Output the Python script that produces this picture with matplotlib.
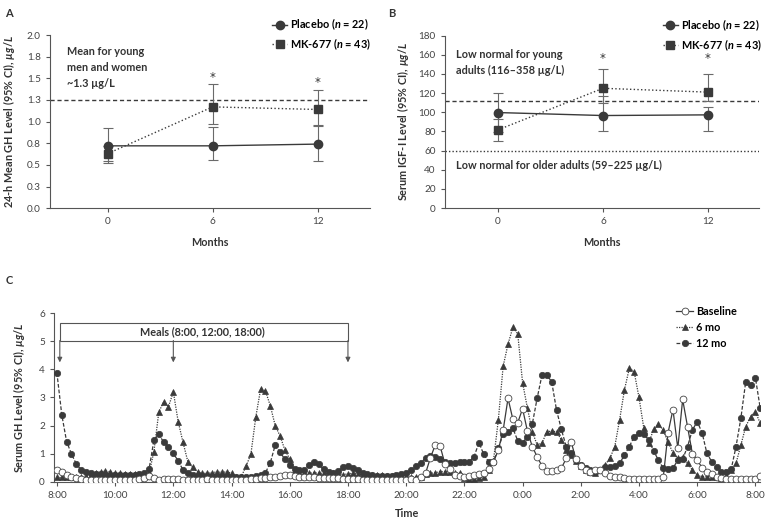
import numpy as np
import matplotlib.pyplot as plt
from matplotlib.patches import Rectangle

plt.rcParams['font.family'] = ['Lato', 'DejaVu Sans']
plt.rcParams['mathtext.fontset'] = 'custom'
plt.rcParams['mathtext.rm'] = 'Lato:bold'
plt.rcParams['mathtext.it'] = 'Lato:bold:italic'
plt.rcParams['mathtext.bf'] = 'Lato:bold'

DARK = '#3a3a3a'
GREY = '#555555'
TXT = '#333333'

# panel A / B data
months = [0, 6, 12]
placebo_gh = [0.72, 0.72, 0.74]
placebo_gh_lo = [0.55, 0.56, 0.55]
placebo_gh_hi = [0.93, 0.94, 0.95]
mk_gh = [0.63, 1.17, 1.14]
mk_gh_lo = [0.52, 0.97, 0.96]
mk_gh_hi = [0.72, 1.43, 1.37]
gh_young_mean = 1.25

placebo_igf = [99.7, 96.6, 97.3]
placebo_igf_lo = [79, 80, 80]
placebo_igf_hi = [120.6, 117, 105]
mk_igf = [81.7, 125, 121]
mk_igf_lo = [70.5, 110, 112]
mk_igf_hi = [93, 145, 140]
igf_young_low = 112
igf_old_low = 60

# panel C data, one sample every 10 min from 8:00
baseline = [
    0.40, 0.36, 0.24, 0.18, 0.12, 0.08, 0.06, 0.06, 0.06, 0.06,
    0.06, 0.06, 0.06, 0.06, 0.06, 0.06, 0.06, 0.08, 0.12, 0.20,
    0.12, 0.06, 0.08, 0.08, 0.10, 0.08, 0.07, 0.07, 0.07, 0.07,
    0.07, 0.08, 0.07, 0.07, 0.06, 0.06, 0.06, 0.06, 0.07, 0.07,
    0.08, 0.10, 0.12, 0.12, 0.15, 0.18, 0.20, 0.24, 0.24, 0.20,
    0.18, 0.16, 0.16, 0.15, 0.12, 0.12, 0.12, 0.12, 0.12, 0.10,
    0.10, 0.10, 0.08, 0.06, 0.06, 0.06, 0.06, 0.06, 0.06, 0.06,
    0.06, 0.06, 0.06, 0.08, 0.06, 0.15, 0.30, 0.85, 1.31, 1.27,
    0.63, 0.44, 0.24, 0.20, 0.18, 0.20, 0.24, 0.26, 0.30, 0.44,
    0.70, 1.13, 1.84, 2.97, 2.22, 2.10, 2.60, 1.80, 1.25, 0.89,
    0.56, 0.39, 0.39, 0.42, 0.48, 0.83, 1.43, 0.80, 0.55, 0.42,
    0.36, 0.40, 0.42, 0.30, 0.22, 0.18, 0.15, 0.12, 0.10, 0.08,
    0.08, 0.08, 0.08, 0.08, 0.08, 0.15, 1.75, 2.57, 1.19, 2.93,
    1.96, 1.00, 0.77, 0.50, 0.35, 0.27, 0.18, 0.12, 0.10, 0.08,
    0.08, 0.08, 0.08, 0.08, 0.08, 0.22]
six_mo = [
    0.15, 0.15, 0.15, 0.15, 0.15, 0.15, 0.18, 0.25, 0.30, 0.35,
    0.38, 0.35, 0.30, 0.30, 0.28, 0.28, 0.27, 0.25, 0.22, 0.30,
    1.07, 2.47, 2.85, 2.67, 3.20, 2.14, 1.40, 0.71, 0.51, 0.35,
    0.30, 0.30, 0.32, 0.35, 0.33, 0.35, 0.30, 0.18, 0.18, 0.55,
    0.99, 2.30, 3.30, 3.23, 2.70, 2.00, 1.63, 1.13, 0.81, 0.42,
    0.32, 0.30, 0.30, 0.32, 0.30, 0.30, 0.28, 0.30, 0.28, 0.25,
    0.28, 0.30, 0.28, 0.25, 0.25, 0.25, 0.25, 0.25, 0.22, 0.20,
    0.18, 0.18, 0.17, 0.17, 0.17, 0.17, 0.27, 0.30, 0.32, 0.36,
    0.36, 0.36, 0.32, 0.30, 0.12, 0.08, 0.08, 0.12, 0.18, 0.42,
    0.75, 2.20, 4.12, 4.90, 5.50, 5.27, 3.53, 2.62, 1.78, 1.31,
    1.37, 1.78, 1.80, 1.78, 1.49, 1.13, 0.95, 0.75, 0.55, 0.42,
    0.36, 0.30, 0.42, 0.60, 0.83, 1.25, 2.20, 3.27, 4.04, 3.92,
    3.00, 1.90, 1.37, 1.86, 2.05, 1.84, 1.40, 1.03, 0.83, 0.89,
    0.65, 0.42, 0.24, 0.18, 0.18, 0.18, 0.15, 0.12, 0.15, 0.40,
    0.65, 1.31, 1.96, 2.32, 2.49, 2.08]
twelve_mo = [
    3.88, 2.39, 1.43, 0.99, 0.63, 0.42, 0.33, 0.30, 0.28, 0.27,
    0.25, 0.25, 0.24, 0.24, 0.24, 0.25, 0.25, 0.27, 0.30, 0.45,
    1.48, 1.69, 1.41, 1.25, 1.01, 0.74, 0.42, 0.30, 0.25, 0.22,
    0.20, 0.20, 0.20, 0.18, 0.18, 0.18, 0.18, 0.18, 0.18, 0.18,
    0.18, 0.20, 0.25, 0.32, 0.68, 1.30, 1.05, 0.80, 0.60, 0.44,
    0.42, 0.40, 0.60, 0.69, 0.62, 0.44, 0.33, 0.32, 0.38, 0.51,
    0.56, 0.50, 0.40, 0.32, 0.27, 0.25, 0.22, 0.22, 0.22, 0.22,
    0.24, 0.27, 0.32, 0.42, 0.56, 0.65, 0.86, 0.91, 0.89, 0.81,
    0.71, 0.65, 0.68, 0.69, 0.71, 0.71, 0.89, 1.39, 0.97, 0.71,
    0.71, 1.19, 1.70, 1.78, 1.90, 1.46, 1.39, 1.60, 2.05, 2.97,
    3.80, 3.80, 3.56, 2.55, 1.86, 1.25, 1.01, 0.77, 0.59, 0.48,
    0.42, 0.36, 0.42, 0.53, 0.53, 0.57, 0.65, 0.95, 1.25, 1.60,
    1.72, 1.70, 1.48, 1.10, 0.77, 0.48, 0.44, 0.48, 0.77, 0.80,
    1.25, 1.84, 2.14, 1.75, 1.01, 0.71, 0.53, 0.36, 0.36, 0.44,
    1.25, 2.26, 3.56, 3.44, 3.70, 2.61]
meal_times = [8, 12, 18]
time_ticks = list(range(8, 33, 2))
time_labels = ['%d:00' % (h % 24) for h in time_ticks]

t = 8 + np.arange(len(baseline)) / 6.0

FS = 7.2
LFS = 7.8
WT = 'bold'


def style_axes(ax):
    for s in ['top', 'right']:
        ax.spines[s].set_visible(False)
    for s in ['left', 'bottom']:
        ax.spines[s].set_color(GREY)
        ax.spines[s].set_linewidth(0.8)
    ax.tick_params(direction='out', length=3, width=0.8, colors=GREY,
                   labelsize=FS, labelcolor='#444444')


def panel_means(ax, pl, pl_lo, pl_hi, mk, mk_lo, mk_hi):
    pl_err = [np.array(pl) - np.array(pl_lo), np.array(pl_hi) - np.array(pl)]
    mk_err = [np.array(mk) - np.array(mk_lo), np.array(mk_hi) - np.array(mk)]
    ax.errorbar(months, pl, yerr=pl_err, fmt='none', ecolor='#6a6a6a',
                elinewidth=0.8, capsize=3.5, capthick=0.8, zorder=2)
    ax.errorbar(months, mk, yerr=mk_err, fmt='none', ecolor='#6a6a6a',
                elinewidth=0.8, capsize=3.5, capthick=0.8, zorder=2)
    ax.plot(months, pl, '-', color=DARK, lw=1.0, marker='o', ms=6,
            mfc=DARK, mec=DARK, zorder=3,
            label='Placebo ($\\mathit{n}$ = 22)')
    ax.plot(months, mk, ':', color=DARK, lw=1.0, marker='s', ms=6,
            mfc=DARK, mec=DARK, zorder=3,
            label='MK-677 ($\\mathit{n}$ = 43)')
    ax.set_xticks(months)
    ax.set_xlabel('Months', fontsize=LFS, fontweight=WT,
                  color=TXT, labelpad=8)
    ax.legend(loc='upper left', bbox_to_anchor=(0.68, 1.13), frameon=False,
              handlelength=1.4, handletextpad=0.3,
              labelspacing=0.35, borderaxespad=0,
              prop={'weight': WT, 'size': LFS})


fig = plt.figure(figsize=(7.68, 5.23), dpi=100)

# ---- A
axA = fig.add_axes([0.065, 0.602, 0.417, 0.331])
style_axes(axA)
panel_means(axA, placebo_gh, placebo_gh_lo, placebo_gh_hi,
            mk_gh, mk_gh_lo, mk_gh_hi)
axA.axhline(gh_young_mean, color=DARK, lw=1.0, ls=(0, (3, 2)), zorder=1)
axA.set_xlim(-3.3, 15)
axA.set_ylim(0, 2.0)
axA.set_yticks(np.arange(0, 2.01, 0.25))
axA.set_yticklabels(['0.0', '0.3', '0.5', '0.8', '1.0', '1.3', '1.5', '1.8', '2.0'])
axA.set_ylabel('24-h Mean GH Level (95% CI), $\\mathit{\u00b5g/L}$',
               fontsize=LFS, fontweight=WT, color=TXT, labelpad=7)
axA.text(-2.35, 1.87, 'Mean for young\nmen and women\n~1.3 \u00b5g/L',
         fontsize=LFS, fontweight=WT, color=TXT, va='top',
         linespacing=1.55)
for m, hi in zip(months[1:], mk_gh_hi[1:]):
    axA.text(m, hi + 0.01, '*', ha='center', va='bottom', fontsize=8.5,
             color=TXT, family='DejaVu Sans')

# ---- B
axB = fig.add_axes([0.579, 0.602, 0.409, 0.330])
style_axes(axB)
panel_means(axB, placebo_igf, placebo_igf_lo, placebo_igf_hi,
            mk_igf, mk_igf_lo, mk_igf_hi)
axB.axhline(igf_young_low, color=DARK, lw=1.0, ls=(0, (3, 2)), zorder=1)
axB.axhline(igf_old_low, color=DARK, lw=1.0, ls=(0, (1, 1.5)), zorder=1)
axB.set_xlim(-3.05, 14.9)
axB.set_ylim(0, 180)
axB.set_yticks(np.arange(0, 181, 20))
axB.set_ylabel('Serum IGF-I Level (95% CI), $\\mathit{\u00b5g/L}$',
               fontsize=LFS, fontweight=WT, color=TXT, labelpad=5)
axB.text(-2.43, 166, 'Low normal for young\nadults (116\u2013358 \u00b5g/L)',
         fontsize=LFS, fontweight=WT, color=TXT, va='top',
         linespacing=1.55)
axB.text(-2.43, 44, 'Low normal for older adults (59\u2013225 \u00b5g/L)',
         fontsize=LFS, fontweight=WT, color=TXT, va='center')
for m in months[1:]:
    axB.text(m, 149, '*', ha='center', va='bottom', fontsize=8.5,
             color=TXT, family='DejaVu Sans')

# ---- C
axC = fig.add_axes([0.0703, 0.079, 0.919, 0.322])
style_axes(axC)
axC.plot(t, twelve_mo, color=DARK, lw=0.9, ls=(0, (3, 1.5)), marker='o',
         ms=4.6, mfc=DARK, mec=DARK, mew=0.5, label='12 mo', zorder=3)
axC.plot(t, six_mo, color=DARK, lw=0.9, ls=(0, (1, 1)), marker='^',
         ms=4.9, mfc=DARK, mec=DARK, mew=0.5, label='6 mo', zorder=3)
axC.plot(t, baseline, color=DARK, lw=0.9, ls='-', marker='o', ms=4.9,
         mfc='white', mec='#444444', mew=0.6, label='Baseline', zorder=4)
axC.set_xlim(7.9, 32.15)
axC.set_ylim(0, 6)
axC.set_xticks(time_ticks)
axC.set_xticklabels(time_labels)
axC.set_yticks(range(0, 7))
axC.set_xlabel('Time', fontsize=LFS, fontweight=WT, color=TXT,
               labelpad=6)
axC.set_ylabel('Serum GH Level (95% CI), $\\mathit{\u00b5g/L}$',
               fontsize=LFS, fontweight=WT, color=TXT, labelpad=9)

box_lo, box_hi = 5.03, 5.65
axC.add_patch(Rectangle((meal_times[0] + 0.1, box_lo),
                        meal_times[-1] - meal_times[0] - 0.1, box_hi - box_lo,
                        fill=False, lw=0.8, ec=GREY, zorder=2))
axC.text((meal_times[0] + meal_times[-1]) / 2, (box_lo + box_hi) / 2,
         'Meals (8:00, 12:00, 18:00)', ha='center', va='center',
         fontsize=LFS, fontweight=WT, color=TXT)
for i, mt in enumerate(meal_times):
    x = mt + 0.1 if i == 0 else mt
    axC.annotate('', xy=(x, 4.25), xytext=(x, box_lo),
                 arrowprops=dict(arrowstyle='-|>', color=GREY, lw=0.8,
                                 mutation_scale=7, shrinkA=0, shrinkB=0))

h, l = axC.get_legend_handles_labels()
axC.legend(h[::-1], l[::-1], loc='upper left', bbox_to_anchor=(0.875, 1.07),
           frameon=False, handlelength=1.6, handletextpad=0.3,
           labelspacing=0.45, borderaxespad=0,
           prop={'weight': WT, 'size': LFS})

for lab, x, y in [('A', 0.007, 0.985), ('B', 0.506, 0.985), ('C', 0.007, 0.474)]:
    fig.text(x, y, lab, fontsize=8, fontweight='bold', color=TXT,
             va='top')

fig.savefig('out.png', dpi=100)
